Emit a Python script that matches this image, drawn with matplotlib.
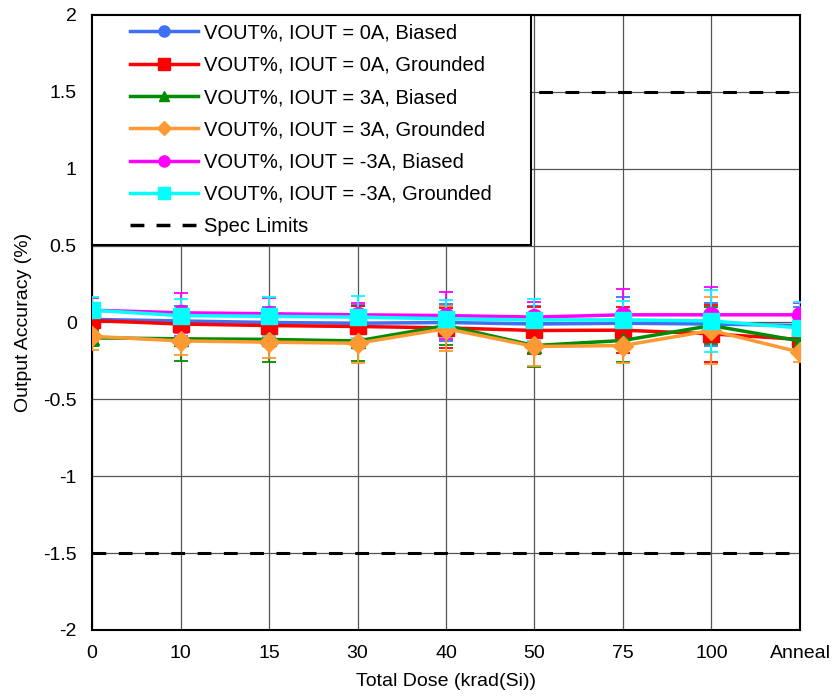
import matplotlib
matplotlib.use("Agg")
import matplotlib.pyplot as plt
from matplotlib.lines import Line2D
from matplotlib.legend_handler import HandlerLine2D

categories = ["0", "10", "15", "30", "40", "50", "75", "100", "Anneal"]

labels = ["VOUT%, IOUT = 0A, Biased", "VOUT%, IOUT = 0A, Grounded",
          "VOUT%, IOUT = 3A, Biased", "VOUT%, IOUT = 3A, Grounded",
          "VOUT%, IOUT = -3A, Biased", "VOUT%, IOUT = -3A, Grounded"]

iout0_biased = [0.02, 0.01, 0.0, -0.005, 0.0, -0.01, -0.005, -0.01, -0.02]
iout0_biased_err = [0.08, 0.10, 0.10, 0.12, 0.12, 0.12, 0.17, 0.14, 0.12]
iout0_grounded = [0.013, -0.01, -0.02, -0.026, -0.035, -0.052, -0.05, -0.074, -0.11]
iout0_grounded_err = [0.08, 0.10, 0.10, 0.13, 0.13, 0.15, 0.15, 0.185, 0.10]
iout3_biased = [-0.10, -0.106, -0.11, -0.12, -0.02, -0.15, -0.117, -0.02, -0.12]
iout3_biased_err = [0.05, 0.145, 0.148, 0.13, 0.126, 0.14, 0.14, 0.12, 0.05]
iout3_grounded = [-0.09, -0.12, -0.128, -0.135, -0.04, -0.156, -0.15, -0.052, -0.193]
iout3_grounded_err = [0.09, 0.09, 0.10, 0.13, 0.146, 0.13, 0.115, 0.22, 0.065]
ioutm3_biased = [0.08, 0.063, 0.057, 0.05, 0.045, 0.035, 0.05, 0.05, 0.05]
ioutm3_biased_err = [0.08, 0.13, 0.10, 0.08, 0.155, 0.10, 0.17, 0.18, 0.08]
ioutm3_grounded = [0.08, 0.045, 0.04, 0.035, 0.024, 0.017, 0.017, 0.01, -0.035]
ioutm3_grounded_err = [0.085, 0.11, 0.125, 0.135, 0.12, 0.137, 0.126, 0.20, 0.17]

spec_upper = 1.5
spec_lower = -1.5

series = [iout0_biased, iout0_grounded, iout3_biased, iout3_grounded, ioutm3_biased, ioutm3_grounded]
errors = [iout0_biased_err, iout0_grounded_err, iout3_biased_err, iout3_grounded_err,
          ioutm3_biased_err, ioutm3_grounded_err]
colors = ["#3F6FF5", "#FF0000", "#008C00", "#FF9933", "#FF00FF", "#00FFFF"]
markers = ["o", "s", "^", "D", "o", "s"]
msizes = [11.5, 11, 10, 10, 11.5, 11]
leg_msizes = [8, 8, 7.5, 7, 8, 8]

plt.rcParams['font.family'] = ['Liberation Sans', 'DejaVu Sans']
FS = 14.5


class ShiftedHandler(HandlerLine2D):
    def __init__(self, shift, **kw):
        super().__init__(**kw)
        self.shift = shift

    def create_artists(self, legend, orig_handle, xdescent, ydescent, width, height, fontsize, trans):
        return super().create_artists(legend, orig_handle, xdescent - self.shift, ydescent,
                                      width - self.shift, height, fontsize, trans)


fig = plt.figure(figsize=(8.32, 7.0), dpi=100)
ax = fig.add_axes([0.1106, 0.1, 0.8509, 0.8786])

x = list(range(len(categories)))
handles = []
for vals, errs, c, m, ms, lms, lab in zip(series, errors, colors, markers, msizes, leg_msizes, labels):
    ax.errorbar(x, vals, yerr=errs, color=c, ecolor=c, elinewidth=1.3, capsize=5,
                capthick=1.3, lw=2.5, marker=m, markersize=ms, zorder=3)
    handles.append(Line2D([], [], color=c, lw=2.5, marker=m, markersize=lms))

dash = (0, (4.5, 4.1))
ax.axhline(spec_upper, color="black", ls=dash, lw=2.2, zorder=2)
ax.axhline(spec_lower, color="black", ls=dash, lw=2.2, zorder=2)
handles.append(Line2D([], [], color="black", lw=2.5, ls=(0, (4.0, 3.5))))
all_labels = labels + ["Spec Limits"]

ax.set_xlim(0, len(categories) - 1)
ax.set_ylim(-2, 2)
ax.set_xticks(x)
ax.set_xticklabels(categories)
ax.set_yticks([-2, -1.5, -1, -0.5, 0, 0.5, 1, 1.5, 2])
ax.set_yticklabels(["-2", "-1.5", "-1", "-0.5", "0", "0.5", "1", "1.5", "2"])
ax.tick_params(axis="both", length=0, labelsize=14, pad=11)
ax.grid(True, color="#555555", lw=0.9)
ax.set_axisbelow(True)
for s in ax.spines.values():
    s.set_linewidth(1.5)
    s.set_color("black")

ax.set_xlabel("Total Dose (krad(Si))", fontsize=14, labelpad=8)
ax.set_ylabel("Output Accuracy (%)", fontsize=14, labelpad=8)

shift_px = 30.0
fs_px = FS * 100 / 72
hm = {h: ShiftedHandler(shift_px * 72 / 100) for h in handles}
leg = ax.legend(handles, all_labels, loc="upper left",
                bbox_to_anchor=(0.0, 1.0, 439 / 708, 0), mode="expand",
                borderaxespad=0, fontsize=FS,
                handlelength=(68 + shift_px) / fs_px, labelspacing=0.66, frameon=True,
                fancybox=False, borderpad=0.42, handletextpad=0.25, handler_map=hm)
leg.get_frame().set_edgecolor("black")
leg.get_frame().set_linewidth(1.5)
leg.get_frame().set_alpha(1)
leg.set_zorder(5)

fig.savefig("out.png", dpi=100)
